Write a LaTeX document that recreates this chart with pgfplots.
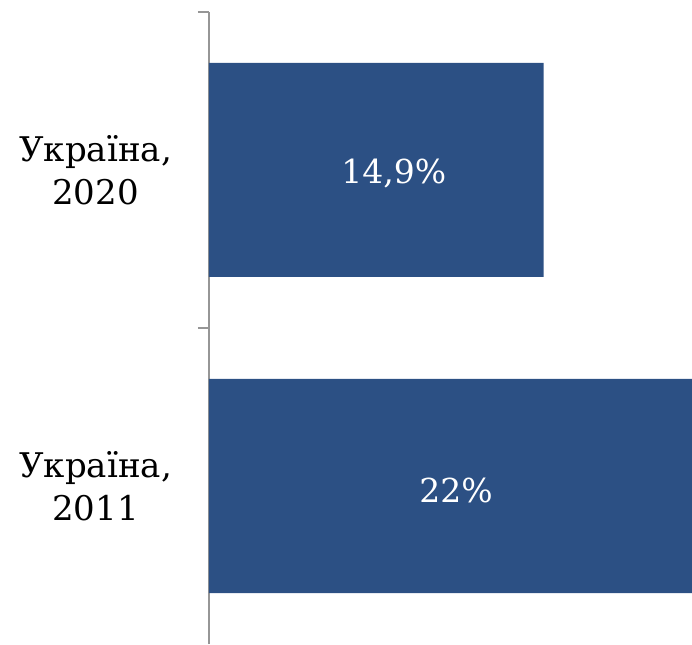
\documentclass[border=0pt]{standalone}
\usepackage{pgfplots}
\pgfplotsset{compat=1.18}
\usepackage{fontspec}
\setmainfont{DejaVu Serif}
\definecolor{barblue}{HTML}{2C5084}
\definecolor{axgray}{HTML}{969696}
\begin{document}
\begin{tikzpicture}
\begin{axis}[
  scale only axis,
  width=483pt, height=632pt,
  xmin=0, xmax=21.5,
  ymin=-0.5, ymax=1.5,
  axis x line=none,
  axis y line*=left,
  y axis line style={axgray, line width=1.6pt},
  ytick={0,1},
  yticklabels={{Україна,\\2011},{Україна,\\2020}},
  major tick length=0pt,
  yticklabel style={align=center, anchor=east, inner sep=0pt, xshift=-37pt,
    font=\fontsize{34}{43}\selectfont},
  extra y ticks={0.5,1.5},
  extra y tick labels={},
  extra y tick style={major tick length=11pt, tick align=outside,
    tick style={axgray, line width=1.6pt}},
  xbar, bar width=214pt, bar shift=0pt,
  clip=true,
]
\addplot[fill=barblue, draw=none, bar shift=0pt] coordinates {(22,0) (14.9,1)};
\addplot[draw=none, bar shift=0pt, bar width=0pt, fill=none,
  nodes near coords, point meta=explicit symbolic,
  every node near coord/.append style={anchor=center, text=white, yshift=-4pt,
    font=\fontsize{33}{40}\selectfont}]
  coordinates {(11,0) [22\%] (8.23,1) [{14,9\%}]};
\end{axis}
\path (current axis.south west) ++(-209pt,0pt);
\path (current axis.north east) ++(0pt,12pt);
\end{tikzpicture}
\end{document}
